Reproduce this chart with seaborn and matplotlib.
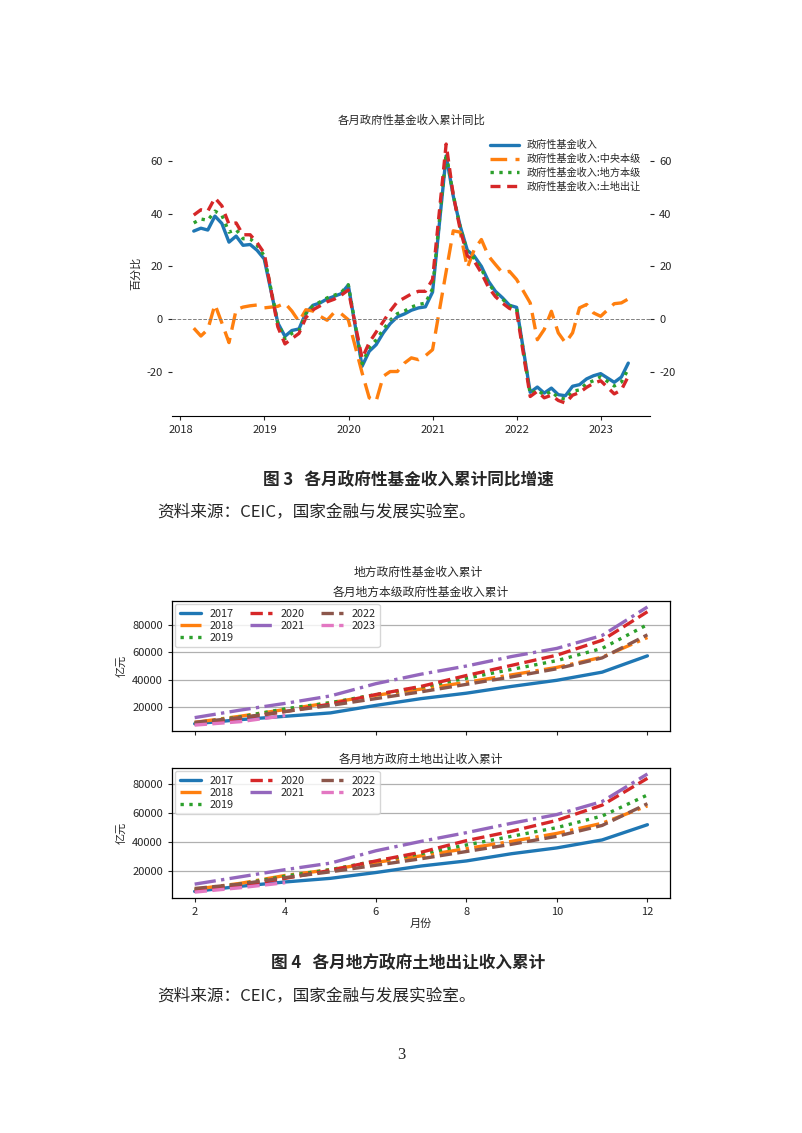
import pandas as pd
import matplotlib
matplotlib.use('Agg')
import matplotlib.pyplot as plt
import matplotlib.dates as mdates
import seaborn as sns

# Figure 3 data: cumulative YoY (%), month-end Feb..Dec each year, 2023 Feb..Apr
years_fig3 = [2018, 2019, 2020, 2021, 2022, 2023]
total = [33.4, 34.5, 33.8, 39.1, 36.3, 29.2, 31.5, 28.0, 28.3, 26.1, 22.8,
         -1.5, -6.6, -4.4, -3.8, 2.3, 5.2, 6.1, 7.6, 8.6, 9.6, 12.9,
         -18.0, -12.3, -9.8, -5.3, -1.8, 0.8, 1.9, 3.3, 4.2, 4.6, 10.2,
         62.0, 46.7, 35.3, 26.1, 23.9, 20.0, 14.3, 10.5, 8.0, 5.2, 4.4,
         -27.9, -25.9, -28.2, -26.3, -28.8, -29.2, -25.6, -25.0, -22.8, -21.6, -20.8,
         -24.1, -22.1, -16.8]
central = [-3.5, -6.5, -4.0, 5.5, -1.5, -9.0, 3.5, 4.5, 5.0, 5.3, 4.2,
           4.8, 6.0, 3.0, -1.0, 3.5, 3.0, 1.0, -0.5, 2.5, 2.0, -0.3,
           -20.5, -30.0, -31.3, -21.8, -20.0, -20.0, -16.8, -14.8, -15.5, -14.0, -11.7,
           18.0, 33.5, 33.0, 19.4, 26.4, 30.2, 23.9, 20.7, 17.5, 18.1, 15.0,
           6.1, -7.9, -4.0, 2.9, -5.3, -9.1, -5.3, 4.2, 5.5, 2.3, 1.0,
           5.8, 6.1, 7.6]
local = [36.5, 38.0, 37.5, 41.0, 39.5, 33.0, 34.0, 30.5, 30.5, 28.0, 24.0,
         -1.5, -7.5, -5.5, -4.5, 2.0, 5.0, 6.5, 8.0, 9.0, 10.0, 13.0,
         -17.0, -11.0, -8.0, -4.0, -0.5, 2.0, 3.0, 4.5, 5.5, 6.0, 11.5,
         63.0, 47.0, 35.0, 25.5, 23.0, 19.0, 13.5, 10.0, 7.5, 5.0, 4.0,
         -28.5, -27.0, -29.0, -27.5, -30.0, -30.5, -27.5, -27.0, -24.5, -23.5, -22.0,
         -25.5, -24.0, -19.0]
land = [39.5, 41.5, 41.0, 46.0, 43.0, 36.0, 36.5, 32.0, 32.0, 29.0, 25.0,
        -3.0, -9.5, -7.5, -5.5, 0.5, 3.5, 5.0, 6.5, 7.5, 9.0, 11.0,
        -15.0, -9.0, -5.0, -1.0, 3.0, 6.5, 8.0, 9.5, 10.5, 10.5, 15.0,
        66.5, 47.0, 34.0, 24.0, 22.0, 17.5, 12.0, 8.5, 6.0, 4.0, 3.0,
        -29.5, -27.5, -30.0, -29.0, -31.0, -32.0, -29.0, -28.0, -26.0, -24.5, -23.5,
        -28.5, -27.0, -21.8]
series_names = ['政府性基金收入', '政府性基金收入:中央本级', '政府性基金收入:地方本级', '政府性基金收入:土地出让']

# Figure 4 data: cumulative income (亿元), months 2..12
months = [2, 3, 4, 5, 6, 7, 8, 9, 10, 11, 12]
year_labels = ['2017', '2018', '2019', '2020', '2021', '2022', '2023']
local_cum = {
    '2017': [7500, 10500, 13000, 15500, 21000, 26000, 30000, 35000, 39500, 45500, 57500],
    '2018': [8500, 13000, 18000, 23000, 28500, 33000, 38000, 43500, 49000, 56500, 71000],
    '2019': [8000, 12500, 18500, 23000, 29000, 34500, 41000, 47500, 54000, 63000, 80500],
    '2020': [7000, 11500, 16500, 22000, 29000, 35000, 43000, 50500, 58000, 69000, 90000],
    '2021': [12000, 17500, 22500, 28000, 37000, 44000, 50000, 57000, 63000, 72500, 93500],
    '2022': [8500, 12000, 16500, 21000, 26000, 31000, 36500, 42000, 48000, 56000, 73000],
    '2023': [6500, 9000, 13500],
}
land_cum = {
    '2017': [6000, 9500, 12500, 15000, 19000, 23500, 27000, 32000, 36000, 41500, 52000],
    '2018': [7500, 11500, 17000, 21000, 26000, 30500, 35500, 40500, 46000, 53000, 65000],
    '2019': [7000, 11000, 16500, 21000, 27000, 32000, 38000, 44000, 50000, 58000, 72500],
    '2020': [6000, 10000, 15000, 20500, 27000, 33000, 41000, 47500, 55000, 65500, 84000],
    '2021': [11000, 16000, 21000, 25500, 34000, 40500, 46500, 53000, 59000, 68000, 87000],
    '2022': [8000, 11000, 15500, 19500, 24000, 28500, 33500, 38500, 44000, 51500, 66500],
    '2023': [5500, 8500, 12000],
}

sns.set_style('white')
plt.rcParams['font.family'] = ['Noto Sans CJK SC', 'DejaVu Sans']
plt.rcParams['axes.unicode_minus'] = False

palette = sns.color_palette('tab10')
year_styles = ['-', '-.', ':', '--', '-.', '--', '--']

# month-end dates of the YoY series
dates = []
for y in years_fig3:
    last = 4 if y == 2023 else 12
    for m in range(2, last + 1):
        dates.append(pd.Timestamp(year=y, month=m, day=1) + pd.offsets.MonthEnd(0))
df3 = pd.DataFrame({'date': dates, series_names[0]: total, series_names[1]: central,
                    series_names[2]: local, series_names[3]: land})

fig = plt.figure(figsize=(8.02, 11.33), dpi=100)

# ---------- Figure 3 ----------
ax = fig.add_axes([0.2145, 0.6328, 0.596, 0.2515])
styles3 = ['-', (0, (5, 2.5)), ':', (0, (3, 2))]
for i, name in enumerate(series_names):
    sns.lineplot(data=df3, x='date', y=name, ax=ax, color=palette[i],
                 linestyle=styles3[i], linewidth=2.4, label=name)
ax.axhline(0, color='grey', linestyle='--', linewidth=0.7)
ax.xaxis.set_major_locator(mdates.YearLocator())
ax.xaxis.set_major_formatter(mdates.DateFormatter('%Y'))
ax.set_xlabel('')
ax.set_ylabel('百分比', fontsize=8)
ax.tick_params(labelsize=8, length=3)
ax.tick_params(axis='y', left=True)
ax.tick_params(axis='x', bottom=True)
for s in ['top', 'right', 'left']:
    ax.spines[s].set_visible(False)
ax.spines['bottom'].set_color('black')
ax2 = ax.twinx()
ax2.set_ylim(ax.get_ylim())
ax2.tick_params(labelsize=8, length=3, right=True)
for s in ['top', 'right', 'left', 'bottom']:
    ax2.spines[s].set_visible(False)
ax.legend(loc='upper right', frameon=False, fontsize=7.3, handlelength=2.8,
          bbox_to_anchor=(1.0, 1.0), labelspacing=0.35)
fig.text(0.513, 0.894, '各月政府性基金收入累计同比', ha='center', va='center', fontsize=8.2)

fig.text(0.509, 0.5763, '图 3   各月政府性基金收入累计同比增速', ha='center', va='center',
         fontsize=12, fontweight='bold')
fig.text(0.196, 0.5481, '资料来源：CEIC，国家金融与发展实验室。', ha='left', va='center',
         fontsize=12)

# ---------- Figure 4 ----------
fig.text(0.522, 0.4951, '地方政府性基金收入累计', ha='center', va='center', fontsize=8.5)
axes4 = [fig.add_axes([0.2145, 0.3548, 0.621, 0.1147]),
         fig.add_axes([0.2145, 0.2074, 0.621, 0.1147])]
titles4 = ['各月地方本级政府性基金收入累计', '各月地方政府土地出让收入累计']
for a, data, title in zip(axes4, [local_cum, land_cum], titles4):
    for j, yr in enumerate(year_labels):
        vals = data[yr]
        sns.lineplot(x=months[:len(vals)], y=vals, ax=a, color=palette[j],
                     linestyle=year_styles[j], linewidth=2.4, label=yr)
    a.set_title(title, fontsize=8.5, pad=4)
    a.set_ylabel('亿元', fontsize=8)
    a.set_yticks([20000, 40000, 60000, 80000])
    a.set_xticks([2, 4, 6, 8, 10, 12])
    a.grid(axis='y', color='#b0b0b0', linewidth=0.9)
    a.tick_params(labelsize=8, length=3, left=True, bottom=True)
    for s in a.spines.values():
        s.set_color('black')
        s.set_linewidth(0.9)
    a.legend(loc='upper left', ncol=3, fontsize=7.8, handlelength=2.0,
             columnspacing=1.5, labelspacing=0.2, framealpha=0.8,
             borderaxespad=0.3)
axes4[0].set_xticklabels([])
axes4[1].set_xlabel('月份', fontsize=8, labelpad=1)

fig.text(0.509, 0.150, '图 4   各月地方政府土地出让收入累计', ha='center', va='center',
         fontsize=12, fontweight='bold')
fig.text(0.196, 0.1209, '资料来源：CEIC，国家金融与发展实验室。', ha='left', va='center',
         fontsize=12)
fig.text(0.5, 0.0688, '3', ha='center', va='center', fontsize=12, family='Liberation Serif')

fig.savefig('out.png', dpi=100, facecolor='white')
